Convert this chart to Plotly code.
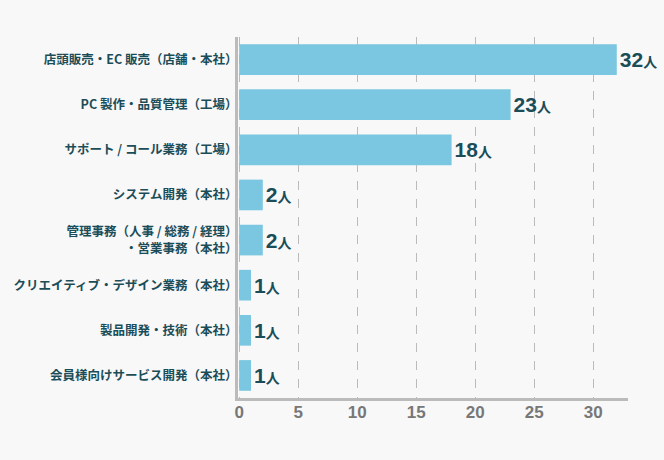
import plotly.graph_objects as go

categories = [
    "店頭販売・EC 販売（店舗・本社）",
    "PC 製作・品質管理（工場）",
    "サポート / コール業務（工場）",
    "システム開発（本社）",
    "管理事務（人事 / 総務 / 経理）<br>・営業事務（本社）",
    "クリエイティブ・デザイン業務（本社）",
    "製品開発・技術（本社）",
    "会員様向けサービス開発（本社）",
]
values = [32, 23, 18, 2, 2, 1, 1, 1]
unit = "人"
tick_vals = [0, 5, 10, 15, 20, 25, 30]

TEXT_COLOR = "#1b4d59"
BAR_COLOR = "#7bc6e0"
AXIS_COLOR = "#bbbbbb"
BG = "#f8f8f8"

labels = [f"<b>{v}</b><span style='font-size:14px'><b>{unit}</b></span>" for v in values]

fig = go.Figure(
    go.Bar(
        x=values,
        y=categories,
        orientation="h",
        marker=dict(color=BAR_COLOR, line=dict(width=0)),
        text=labels,
        textposition="outside",
        textfont=dict(family="Liberation Sans, Noto Sans CJK JP", size=21, color=TEXT_COLOR),
        cliponaxis=False,
        hoverinfo="skip",
    )
)

fig.update_layout(
    width=664,
    height=460,
    paper_bgcolor=BG,
    plot_bgcolor=BG,
    margin=dict(l=238, r=36, t=37, b=62, autoexpand=False),
    bargap=0.32,
    showlegend=False,
)

fig.update_xaxes(
    range=[-0.1, 32.95],
    tickvals=tick_vals,
    ticktext=[f"<b>{t}</b>" for t in tick_vals],
    tickfont=dict(family="Liberation Sans, Arial", size=17, color="#777777"),
    showgrid=True,
    gridcolor=AXIS_COLOR,
    griddash="dash",
    gridwidth=1,
    showline=True,
    linecolor=AXIS_COLOR,
    linewidth=3,
    zeroline=False,
    ticks="",
    ticklen=0,
    ticklabelstandoff=-3,
    automargin=False,
)

fig.update_yaxes(
    autorange="reversed",
    tickfont=dict(family="Noto Sans CJK JP", size=12.5, color=TEXT_COLOR, weight="bold"),
    showline=True,
    linecolor=AXIS_COLOR,
    linewidth=3,
    showgrid=False,
    ticks="",
    ticklen=0,
    ticklabelstandoff=-5,
    automargin=False,
)

fig.write_html(
    "out.html",
    config={"displayModeBar": False},
    post_script="document.body.style.margin='0';document.body.style.background='#f8f8f8';",
)
